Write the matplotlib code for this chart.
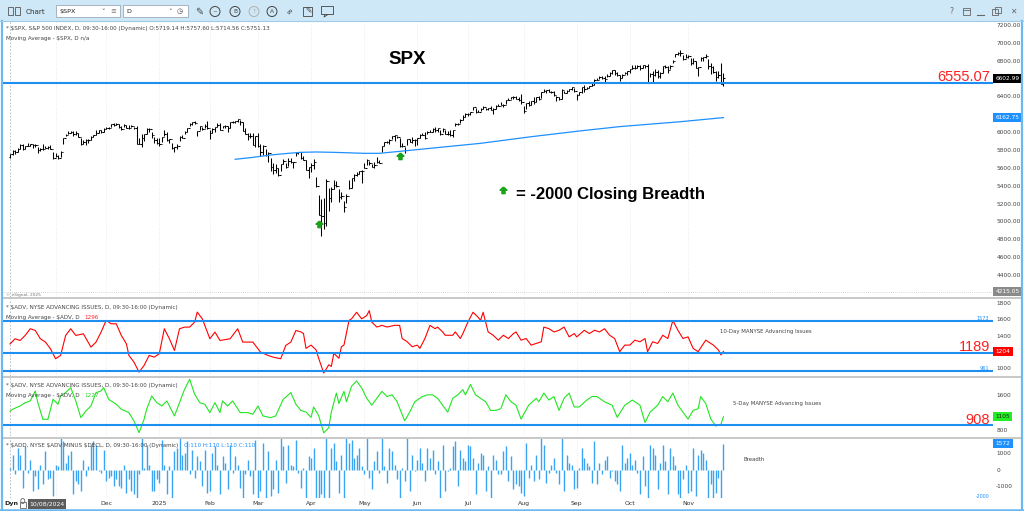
import numpy as np
import pandas as pd
import matplotlib
matplotlib.use('Agg')
import matplotlib.pyplot as plt
from matplotlib.patches import Rectangle, Ellipse
from matplotlib.lines import Line2D
from matplotlib.path import Path

# ---------------- data ----------------
start_date = '2024-10-08'
end_date = '2025-11-21'
market_holidays = ['2024-11-28', '2024-12-25', '2025-01-01', '2025-01-09', '2025-01-20',
                   '2025-02-17', '2025-04-18', '2025-05-26', '2025-06-19', '2025-07-04',
                   '2025-09-01']

spx_first_open = 5719.14
spx_close = [
    # Oct 2024
    5751.13, 5792, 5780, 5815, 5859, 5815, 5842, 5841, 5864, 5853, 5851, 5797, 5809, 5808, 5823, 5833, 5813, 5705,
    # Nov
    5728, 5712, 5783, 5929, 5973, 5996, 6001, 5984, 5985, 5949, 5871, 5893, 5917, 5917, 5949, 5969, 5987, 6021, 5999, 6032,
    # Dec
    6047, 6050, 6087, 6075, 6090, 6053, 6034, 6085, 6051, 6051, 6074, 6050, 5872, 5867, 5931, 5975, 6040, 6037, 5971, 5907, 5882,
    # Jan 2025
    5869, 5942, 5975, 5909, 5918, 5827, 5836, 5843, 5950, 5937, 5997, 6049, 6086, 6119, 6101, 6012, 6068, 6039, 6071, 6041,
    # Feb
    5994, 6038, 6061, 6084, 6026, 6066, 6068, 6052, 6115, 6115, 6129, 6144, 6118, 6013, 5983, 5955, 5956, 5861, 5955,
    # Mar
    5850, 5779, 5843, 5739, 5770, 5615, 5572, 5599, 5522, 5639, 5675, 5615, 5675, 5663, 5668, 5768, 5777, 5712, 5693, 5581, 5612,
    # Apr
    5633, 5671, 5397, 5074, 5062, 4982, 5457, 5268, 5363, 5406, 5397, 5276, 5283, 5158, 5288, 5376, 5485, 5525, 5529, 5561, 5569,
    # May
    5604, 5686, 5650, 5607, 5631, 5664, 5660, 5844, 5886, 5892, 5917, 5958, 5964, 5941, 5845, 5842, 5802, 5922, 5889, 5912, 5912,
    # Jun
    5936, 5970, 5971, 5939, 6000, 6006, 6038, 6022, 6045, 5977, 6033, 5982, 5981, 5967, 6025, 6092, 6092, 6141, 6173, 6205,
    # Jul
    6198, 6227, 6279, 6230, 6226, 6263, 6280, 6260, 6269, 6244, 6264, 6297, 6297, 6306, 6309, 6359, 6363, 6389, 6390, 6371, 6363, 6339,
    # Aug
    6238, 6330, 6299, 6345, 6340, 6389, 6374, 6446, 6466, 6469, 6450, 6449, 6411, 6396, 6370, 6467, 6439, 6466, 6481, 6502, 6460,
    # Sep
    6416, 6448, 6502, 6482, 6495, 6512, 6532, 6587, 6584, 6615, 6607, 6600, 6631, 6664, 6693, 6657, 6638, 6605, 6644, 6661, 6688,
    # Oct
    6711, 6715, 6716, 6740, 6714, 6753, 6736, 6553, 6655, 6644, 6671, 6630, 6664, 6736, 6735, 6699, 6738, 6792, 6875, 6891, 6890, 6822, 6840,
    # Nov
    6852, 6772, 6796, 6720, 6729, 6832, 6846, 6851, 6737, 6734, 6672, 6617, 6642, 6538, 6602.99,
]
spx_high = [
    5757.60, 5796, 5796, 5823, 5871, 5871, 5846, 5878, 5866, 5868, 5863, 5835, 5822, 5862, 5843, 5848, 5851, 5775,
    5772, 5741, 5784, 5937, 5983, 6012, 6018, 6008, 6009, 5993, 5929, 5909, 5923, 5921, 5962, 5973, 6021, 6025, 6021, 6045,
    6053, 6053, 6087, 6099, 6099, 6088, 6066, 6092, 6079, 6079, 6085, 6058, 6070, 5935, 5982, 5978, 6041, 6050, 6007, 5941, 5929,
    5935, 5949, 6021, 6000, 5927, 5876, 5837, 5871, 5960, 5964, 6014, 6051, 6100, 6119, 6128, 6017, 6069, 6063, 6087, 6120,
    6022, 6042, 6062, 6101, 6101, 6074, 6076, 6064, 6116, 6128, 6130, 6147, 6134, 6119, 6044, 5992, 5994, 5994, 5959,
    5987, 5866, 5860, 5812, 5783, 5705, 5656, 5642, 5597, 5645, 5703, 5654, 5716, 5712, 5670, 5775, 5777, 5777, 5733, 5685, 5615,
    5651, 5696, 5500, 5292, 5246, 5267, 5481, 5376, 5381, 5460, 5451, 5368, 5328, 5233, 5309, 5469, 5489, 5528, 5554, 5563, 5581,
    5659, 5700, 5680, 5649, 5668, 5721, 5692, 5845, 5892, 5906, 5925, 5959, 5969, 5954, 5939, 5878, 5839, 5923, 5926, 5943, 5922,
    5937, 5978, 5991, 5999, 6016, 6021, 6043, 6059, 6045, 6026, 6050, 6024, 6018, 6019, 6028, 6101, 6108, 6146, 6187, 6215,
    6211, 6228, 6285, 6273, 6243, 6266, 6290, 6270, 6272, 6292, 6266, 6302, 6316, 6336, 6310, 6360, 6381, 6395, 6401, 6409, 6390, 6428,
    6288, 6330, 6344, 6352, 6394, 6390, 6401, 6446, 6481, 6475, 6481, 6466, 6456, 6407, 6394, 6482, 6466, 6472, 6487, 6509, 6498,
    6423, 6455, 6502, 6533, 6507, 6513, 6555, 6592, 6601, 6626, 6625, 6624, 6656, 6671, 6694, 6697, 6670, 6636, 6650, 6679, 6689,
    6711, 6751, 6750, 6749, 6754, 6753, 6755, 6764, 6665, 6680, 6709, 6695, 6676, 6745, 6752, 6743, 6751, 6807, 6875, 6899, 6920, 6863, 6876,
    6864, 6825, 6828, 6796, 6729, 6842, 6847, 6870, 6824, 6776, 6737, 6683, 6683, 6771, 6664,
]
spx_low = [
    5714.56, 5745, 5760, 5775, 5816, 5804, 5808, 5840, 5847, 5824, 5830, 5762, 5785, 5800, 5818, 5812, 5813, 5703,
    5723, 5697, 5725, 5865, 5956, 5982, 5987, 5960, 5973, 5941, 5854, 5865, 5853, 5880, 5914, 5946, 5963, 5992, 5994, 6004,
    6035, 6036, 6060, 6070, 6076, 6048, 6025, 6062, 6046, 6033, 6059, 6037, 5867, 5866, 5832, 5903, 5982, 6006, 5932, 5880, 5868,
    5846, 5888, 5961, 5897, 5874, 5809, 5773, 5807, 5906, 5937, 5975, 6006, 6071, 6075, 6088, 5962, 6020, 6023, 6042, 6031,
    5923, 5991, 6007, 6062, 6020, 6048, 6043, 6003, 6051, 6106, 6100, 6111, 6084, 6009, 5977, 5908, 5932, 5858, 5837,
    5837, 5733, 5745, 5733, 5667, 5565, 5529, 5547, 5505, 5560, 5640, 5597, 5622, 5652, 5602, 5731, 5759, 5703, 5685, 5573, 5489,
    5558, 5593, 5391, 5069, 4835, 4910, 4950, 5115, 5221, 5360, 5382, 5220, 5256, 5101, 5207, 5359, 5371, 5456, 5505, 5527, 5434,
    5597, 5633, 5628, 5606, 5602, 5650, 5650, 5781, 5844, 5876, 5865, 5928, 5901, 5931, 5830, 5830, 5767, 5857, 5886, 5875, 5843,
    5861, 5929, 5967, 5921, 5978, 6000, 6005, 6003, 6003, 5963, 6007, 5978, 5971, 5953, 5943, 6069, 6080, 6108, 6132, 6175,
    6177, 6189, 6243, 6220, 6224, 6236, 6261, 6243, 6253, 6243, 6201, 6264, 6289, 6303, 6282, 6318, 6360, 6368, 6376, 6367, 6345, 6315,
    6213, 6260, 6288, 6302, 6317, 6340, 6365, 6379, 6445, 6441, 6447, 6437, 6401, 6344, 6357, 6374, 6437, 6438, 6460, 6474, 6447,
    6360, 6416, 6444, 6455, 6478, 6493, 6522, 6532, 6579, 6596, 6600, 6552, 6614, 6634, 6656, 6642, 6625, 6570, 6610, 6648, 6643,
    6657, 6705, 6708, 6717, 6700, 6719, 6714, 6550, 6617, 6552, 6633, 6612, 6603, 6668, 6724, 6658, 6706, 6771, 6839, 6862, 6857, 6812, 6831,
    6826, 6751, 6766, 6717, 6631, 6801, 6801, 6834, 6710, 6646, 6661, 6577, 6605, 6535, 6521,
]

# moving average of $SPX (read at a few bars)
spx_ma_bar = [89, 96, 103, 110, 115, 121, 128, 140, 146, 154, 186, 206, 225, 241, 265, 282]
spx_ma_val = [5696, 5718, 5744, 5763, 5774, 5778, 5774, 5763, 5763, 5785, 5875, 5949, 6013, 6062, 6117, 6163]

# 10-day MA of NYSE advancing issues
adv10_bar = [0, 2, 4, 6, 8, 10, 12, 14, 16, 18, 20, 22, 24, 26, 29, 32, 34, 36, 38, 40,
             42, 44, 46, 47, 49, 51, 53, 55, 57, 59, 61, 63, 65, 67, 69, 71, 73, 74, 76, 79,
             81, 83, 87, 90, 92, 96, 99, 102, 104, 107, 109, 111, 113, 115, 116, 117, 119, 121, 122, 124,
             126, 127, 128, 130, 131, 132, 134, 135, 137, 138, 139, 141, 142, 143, 145, 147, 149, 152, 154, 155,
             157, 159, 161, 162, 164, 166, 168, 169, 171, 172, 175, 176, 178, 179, 181, 183, 185, 186, 187, 189,
             191, 193, 195, 197, 199, 200, 202, 204, 206, 208, 210, 211, 213, 215, 217, 219, 221, 223, 224, 227,
             229, 231, 233, 235, 237, 239, 241, 243, 245, 247, 249, 251, 252, 254, 256, 258, 260, 262, 264, 266,
             268, 270, 272, 275, 278, 280, 281, 282]
adv10_val = [1296, 1360, 1339, 1401, 1483, 1462, 1360, 1319, 1237, 1114, 1155, 1401, 1483, 1401, 1421, 1257, 1319, 1442, 1585, 1544,
             1544, 1401, 1298, 1155, 1073, 950, 1032, 1155, 1134, 1175, 1483, 1360, 1216, 1483, 1503, 1503, 1565, 1688, 1606, 1360,
             1442, 1339, 1360, 1483, 1319, 1319, 1196, 1155, 1134, 1114, 1278, 1319, 1462, 1444, 1424, 1242, 1282, 1222, 1120, 939,
             1040, 1020, 1181, 1120, 1262, 1282, 1585, 1605, 1686, 1646, 1605, 1646, 1706, 1565, 1504, 1525, 1504, 1525, 1525, 1363,
             1323, 1262, 1282, 1242, 1363, 1525, 1484, 1504, 1444, 1403, 1403, 1444, 1363, 1424, 1565, 1686, 1626, 1585, 1686, 1444,
             1403, 1343, 1403, 1363, 1424, 1444, 1343, 1363, 1282, 1302, 1323, 1504, 1484, 1444, 1464, 1504, 1383, 1424, 1383, 1464,
             1424, 1464, 1444, 1484, 1403, 1363, 1201, 1282, 1282, 1343, 1323, 1363, 1201, 1323, 1302, 1403, 1363, 1585, 1464, 1363,
             1383, 1242, 1201, 1343, 1282, 1222, 1161, 1204]

# 5-day MA of NYSE advancing issues
adv5_bar = [0, 1, 4, 6, 8, 10, 11, 13, 15, 16, 17, 19, 20, 22, 24, 26, 28, 30, 32, 34,
            36, 37, 39, 42, 44, 47, 49, 51, 53, 54, 56, 58, 60, 62, 65, 67, 69, 71, 73, 75,
            77, 79, 81, 83, 84, 86, 88, 91, 94, 96, 98, 100, 103, 105, 108, 111, 113, 115, 117, 119,
            120, 122, 124, 126, 127, 129, 130, 132, 133, 135, 137, 139, 141, 143, 145, 147, 149, 151, 153, 156,
            158, 160, 163, 165, 167, 169, 171, 173, 175, 177, 179, 180, 182, 184, 186, 188, 190, 192, 194, 196,
            198, 200, 202, 205, 208, 209, 211, 213, 215, 217, 219, 221, 223, 225, 228, 230, 232, 235, 238, 240,
            243, 246, 249, 251, 253, 256, 258, 260, 262, 264, 266, 268, 270, 272, 273, 275, 277, 279, 281, 282]
adv5_val = [1227, 1274, 1350, 1426, 1464, 1693, 1426, 1045, 1045, 1274, 1502, 1388, 1579, 1655, 1769, 1464, 1083, 1236, 1350, 1655,
            1693, 1769, 1502, 1388, 1274, 1198, 1007, 740, 1045, 1274, 1579, 1426, 1350, 1464, 1121, 1426, 1731, 1960, 1617, 1426,
            1388, 1198, 1426, 1198, 1464, 1350, 1464, 1198, 1198, 1160, 1350, 1121, 1083, 1121, 1502, 1655, 1388, 1248, 1209, 1090,
            1327, 1129, 734, 853, 1209, 1644, 1406, 1683, 1446, 1802, 1921, 1762, 1525, 1367, 1525, 1683, 1565, 1604, 1446, 1011,
            1209, 1446, 1565, 1604, 1604, 1525, 1367, 1209, 1525, 1604, 1723, 1604, 1842, 1604, 1525, 1446, 1248, 1248, 1288, 1604,
            1446, 1367, 1050, 1367, 1525, 1446, 1644, 1485, 1565, 1248, 1525, 1644, 1327, 1327, 1485, 1565, 1565, 1446, 1367, 1090,
            1367, 1485, 1367, 971, 1209, 1367, 1565, 1446, 1644, 1367, 1209, 1050, 1248, 1288, 1565, 1406, 1050, 892, 932, 1105]

# $ADD, NYSE advancers minus decliners (daily close)
add_breadth = [
    110, 850, -300, 1300, 900, -1100, 1400, -200, 600, -1300, -400, -1200, 300, -900, 1100, -600, -500, -1600,
    300, 200, 1900, 1700, 400, 900, 1100, -1500, -700, -900, -1300, 600, -400, 200, 1500, 1700, 1500, -100, -200, 1200,
    -700, -500, -400, -1000, -600, -1000, -1100, 300, -1400, -600, -1300, -1500, -1990, -300, 1900, 100, 1500, 300, -1300, -1300, -600,
    -800, 1800, 300, -1500, 200, -1900, 1100, 1300, 2100, 900, 1000, 1700, -300, 1200, -500, 800, 500, -1000, 1200, -1400,
    -1300, 1000, 1400, 300, -1500, 800, 400, -1200, 1500, -200, 800, 300, -1100, -1950, -300, 600, -400, -1500, 1800,
    -1800, -1300, 1600, -1700, 1100, -1600, -1200, 600, -1400, 2000, 1400, -800, 1500, 300, 200, 1800, -200, -1100, 100, -1700, 800,
    700, 1300, -1850, -2400, -1500, -1800, 2500, -1700, 1300, 1600, 500, -1400, 900, -1800, 2100, 1600, 1800, 700, 900, 1300, 200,
    -300, 1900, -500, -1200, 500, 1100, -200, 2100, 200, -800, 1300, 1100, 300, -600, -2050, 100, -700, 2000, -1300, 900, -100,
    600, 1300, 400, -700, 1300, 700, 1200, -300, 500, -1700, 1500, -1300, -100, 100, 1400, 1700, -1000, 1200, 700, 500,
    1500, 1400, 700, -1500, 400, 1000, 900, -1300, 200, -1900, 900, 600, -300, -300, 1100, 1400, -700, 800, -1200, -900, -1000, -1400,
    -1600, 1600, -500, 300, -700, 900, -600, 1900, 1500, -800, -200, 300, 700, -200, -900, 2100, -1300, 900, 400, 300, -1200,
    -1100, 100, 1300, 700, 400, 200, -800, 1700, -900, 400, -300, 600, 800, -500, -100, -700, -900, -1300, 1500, 400, 700,
    1000, 300, 600, -200, -1500, 800, -1000, -1980, 1500, 1300, 900, -1200, 400, 1500, 500, -1500, 1300, 800, 300, -1500, -1800, -600, 300,
    -1400, -1300, 1300, -1600, 900, 1200, 1000, 600, -1700, -900, -1700, -1400, -500, -1800, 1572,
]

spx_level = 6555.07
adv10_levels = [1573, 1189, 961]
adv5_level = 908
breadth_trigger = -2000

# ---------------- layout helpers ----------------
W, H = 1024, 511
fig = plt.figure(figsize=(W / 100, H / 100), dpi=100)
fig.patch.set_facecolor('white')
plt.rcParams['font.family'] = 'DejaVu Sans'

def fx(px):
    return px / W

def fy(py):
    return 1 - py / H

def ftxt(px, py, s, **kw):
    kw.setdefault('fontsize', 4.2)
    kw.setdefault('color', '#444444')
    kw.setdefault('va', 'center')
    kw.setdefault('ha', 'left')
    return fig.text(fx(px), fy(py), s, **kw)

def frect(x0, y0, x1, y1, **kw):
    r = Rectangle((fx(x0), fy(y1)), (x1 - x0) / W, (y1 - y0) / H, transform=fig.transFigure, **kw)
    fig.add_artist(r)
    return r

def fline(xs, ys, **kw):
    fig.add_artist(Line2D([fx(x) for x in xs], [fy(y) for y in ys], transform=fig.transFigure, **kw))

dates = pd.bdate_range(start_date, end_date)
dates = dates[~dates.isin(pd.to_datetime(market_holidays))]
n = len(dates)
idx = np.arange(n)
month_first = [i for i in range(1, n) if dates[i].month != dates[i - 1].month]

X0, X1 = 3, 993
bar0_px, bar_px = 10, 2.53
xlim = ((X0 - bar0_px) / bar_px, (X1 - bar0_px) / bar_px)
LINE_BLUE = '#1f8ef1'

def panel(y0, y1, ylim, ticks, fmt):
    ax = fig.add_axes([fx(X0), fy(y1), (X1 - X0) / W, (y1 - y0) / H])
    ax.set_xlim(*xlim)
    ax.set_ylim(*ylim)
    ax.set_facecolor('none')
    for s in ax.spines.values():
        s.set_visible(False)
    ax.set_xticks([])
    ax.yaxis.tick_right()
    ax.set_yticks(ticks)
    ax.set_yticklabels([fmt % t for t in ticks])
    ax.tick_params(axis='y', length=0, pad=2.3, labelsize=4.2, labelcolor='#444444')
    for b in month_first:
        ax.axvline(b, color='#e3e3e3', lw=0.6, ls=(0, (1, 2)), zorder=0)
    ax.axvline(0, color='#b5b5b5', lw=0.6, ls=(0, (2, 2)), zorder=0)
    return ax

def tag(ax, v, s, fc, tc='white'):
    ax.text(1.0 + 2.5 / (X1 - X0), v, s, transform=ax.get_yaxis_transform(), ha='left', va='center',
            fontsize=4.2, color=tc, clip_on=False, zorder=6,
            bbox=dict(boxstyle='square,pad=0.38', fc=fc, ec='none'))

def big_label(ax, v, s):
    ax.annotate(s, xy=((990 - X0) / (X1 - X0), v), xycoords=ax.get_yaxis_transform(),
                xytext=(0, 1.2), textcoords='offset points', ha='right', va='baseline',
                fontsize=10.5, color='#ff2020', family=['Liberation Sans Narrow', 'Liberation Sans'],
                annotation_clip=False, zorder=5)

# ---------------- SPX panel ----------------
# 6200 and 6600 sit under the price tags, so they are left out as in the original
spx_ticks = [t for t in range(4400, 7201, 200) if t not in (6200, 6600)]
ax1 = panel(20, 297, (4154, 7256), spx_ticks, '%.2f')
spx_open = [spx_first_open] + spx_close[:-1]
ax1.vlines(idx, spx_low, spx_high, color='black', lw=0.75)
ax1.hlines(spx_close, idx, idx + 0.5, color='black', lw=0.75)
ax1.hlines(spx_open, idx - 0.5, idx, color='black', lw=0.75)
ax1.plot(spx_ma_bar, spx_ma_val, color='#1e90ff', lw=0.9)
ax1.axhline(spx_level, color=LINE_BLUE, lw=1.5)
ax1.axhline(4215.05, color='#c8c8c8', lw=0.6, ls=(0, (1, 1.5)))

arrow = Path([(0, 1), (1, 0.1), (0.45, 0.1), (0.45, -0.9), (-0.45, -0.9), (-0.45, 0.1), (-1, 0.1), (0, 1)])
hits = [i for i in idx if add_breadth[i] <= breadth_trigger]
ax1.plot(hits, [spx_low[i] - 100 for i in hits], ls='none', marker=arrow, ms=5, color='#1aa31a')

big_label(ax1, spx_level, '6555.07')
tag(ax1, spx_close[-1], '%.2f' % spx_close[-1], 'black')
tag(ax1, 6162.75, '6162.75', '#1e90ff')
tag(ax1, 4215.05, '4215.05', '#8a8a8a')

ftxt(407, 59, 'SPX', fontsize=13.5, weight='bold', color='black', ha='center',
     family=['Liberation Sans', 'DejaVu Sans'])
ax1.plot([503 / W], [fy(190)], transform=fig.transFigure, marker=arrow, ms=5, color='#1aa31a', clip_on=False)
ftxt(516, 194, '= -2000 Closing Breadth', fontsize=12, weight='bold', color='black',
     family=['Liberation Sans', 'DejaVu Sans'])
ftxt(6, 28.5, '* $SPX, S&P 500 INDEX, D, 09:30-16:00 (Dynamic) O:5719.14 H:5757.60 L:5714.56 C:5751.13', fontsize=4.1)
ftxt(6, 38.5, 'Moving Average - $SPX, D n/a', fontsize=4.1)
ftxt(6, 294.5, '\u00a9 eSignal, 2025', fontsize=3.1, color='#777777')

# ---------------- 10-day advancing issues ----------------
ax2 = panel(299, 376, (902, 1849), [1000, 1400, 1600, 1800], '%d')
ax2.plot(adv10_bar, adv10_val, color='#ff0000', lw=0.8)
for lv in adv10_levels:
    ax2.axhline(lv, color=LINE_BLUE, lw=1.5)
ax2.text((989 - X0) / (X1 - X0), 1573, '1573', transform=ax2.get_yaxis_transform(), ha='right', va='bottom',
         fontsize=3.6, color='#1e90ff')
ax2.text((989 - X0) / (X1 - X0), 961, '961', transform=ax2.get_yaxis_transform(), ha='right', va='bottom',
         fontsize=3.6, color='#1e90ff')
big_label(ax2, 1189, '1189')
tag(ax2, adv10_val[-1], str(adv10_val[-1]), '#ff0000')
ftxt(720, 332, '10-Day MANYSE Advancing Issues', fontsize=3.9)
ftxt(6, 308, '* $ADV, NYSE ADVANCING ISSUES, D, 09:30-16:00 (Dynamic)', fontsize=4.1)
ftxt(6, 317.5, 'Moving Average - $ADV, D ', fontsize=4.1)
ftxt(84, 317.5, '1296', fontsize=4.1, color='#ff2020')

# ---------------- 5-day advancing issues ----------------
ax3 = panel(378, 436, (663, 1989), [800, 1600], '%d')
ax3.plot(adv5_bar, adv5_val, color='#22e622', lw=0.8)
ax3.axhline(adv5_level, color=LINE_BLUE, lw=1.5)
big_label(ax3, adv5_level, '908')
tag(ax3, adv5_val[-1], str(adv5_val[-1]), '#22ee22', tc='#222222')
ftxt(733, 403, '5-Day MANYSE Advancing Issues', fontsize=3.9)
ftxt(6, 385, '* $ADV, NYSE ADVANCING ISSUES, D, 09:30-16:00 (Dynamic)', fontsize=4.1)
ftxt(6, 395, 'Moving Average - $ADV, D ', fontsize=4.1)
ftxt(84, 395, '1227', fontsize=4.1, color='#22cc22')

# ---------------- breadth ----------------
ax4 = panel(438, 498, (-1727, 1909), [-1000, 0, 1000], '%d')
ax4.vlines(idx, 0, add_breadth, color='#3aa4f2', lw=1.0, zorder=3)
tag(ax4, add_breadth[-1], str(add_breadth[-1]), '#1e90ff')
ax4.text((990 - X0) / (X1 - X0), -1660, '-2000', transform=ax4.get_yaxis_transform(), ha='right', va='center',
         fontsize=3.4, color='#1e90ff')
ftxt(743, 459, 'Breadth', fontsize=3.9)
ftxt(6, 445, '* $ADD, NYSE $ADV MINUS $DECL, D, 09:30-16:00 (Dynamic)', fontsize=4.1, zorder=0.5)
ftxt(184, 445, 'O:110 H:110 L:110 C:110', fontsize=4.1, color='#1e90ff', zorder=0.5)

# ---------------- time axis ----------------
ax5 = fig.add_axes([fx(X0), fy(509), (X1 - X0) / W, 11 / H])
ax5.set_xlim(*xlim)
ax5.set_ylim(0, 1)
ax5.axis('off')
for b in month_first:
    if bar0_px + b * bar_px < 80:   # hidden under the cursor date box
        continue
    lab = dates[b].strftime('%b') if dates[b].month != 1 else str(dates[b].year)
    ax5.text(b, 0.5, lab, ha='center', va='center', fontsize=4.4, color='#333333')
ftxt(4, 504, 'Dyn', fontsize=4.6, weight='bold', color='#222222')
frect(20, 501.5, 25.5, 507.5, fc='none', ec='#666666', lw=0.6)
fig.add_artist(Ellipse((fx(22.75), fy(501)), 4 / W, 5 / H, transform=fig.transFigure, fc='none', ec='#666666', lw=0.6))
frect(28, 499, 66, 509, fc='#5b5b5b', ec='none')
ftxt(47, 504, '10/08/2024', fontsize=4.4, color='white', ha='center')

# ---------------- panel separators and frame ----------------
for yy in (298, 377, 437.5):
    fline([3, 1021], [yy, yy], color='#c8c8c8', lw=1.4)
fline([1.5, 1.5], [21, 511], color='#6db8ef', lw=1.6)
fline([1021.5, 1021.5], [21, 511], color='#6db8ef', lw=1.6)
fline([0, 1024], [510, 510], color='#6db8ef', lw=1.8)

# ---------------- toolbar ----------------
frect(0, 0, W, 21, fc='#cfe8f7', ec='none')
fline([0, W], [21, 21], color='#9fcbea', lw=0.8)
frect(8, 7, 13, 15.5, fc='none', ec='#555555', lw=0.6)
frect(15, 7, 20, 15.5, fc='none', ec='#555555', lw=0.6)
ftxt(26, 11.5, 'Chart', fontsize=5.2, color='#333333')
frect(56, 5, 120, 17, fc='white', ec='#8a9aaa', lw=0.5)
ftxt(59, 11.2, '$SPX', fontsize=4.6, color='#222222')
ftxt(101, 11.5, '\u02c5', fontsize=5, color='#444444')
ftxt(110, 11.2, '\u2261', fontsize=5, color='#777777')
frect(123, 5, 188, 17, fc='white', ec='#8a9aaa', lw=0.5)
ftxt(126, 11.2, 'D', fontsize=4.6, color='#222222')
ftxt(168, 11.5, '\u02c5', fontsize=5, color='#444444')
ftxt(177, 11.2, '\u25f7', fontsize=5, color='#444444')
ftxt(199, 11.5, '\u270e', fontsize=7, color='#444444', ha='center')
for cx, letter, col in [(215, '~', '#444444'), (235, 'B', '#444444'), (254, 'T', '#b0b0b0'), (272, 'A', '#444444')]:
    fig.add_artist(Ellipse((fx(cx), fy(11.5)), 10 / W, 10 / H, transform=fig.transFigure,
                           fc='none', ec=col, lw=0.7))
    ftxt(cx, 11.5, letter, fontsize=4.2, color=col, ha='center')
ftxt(290, 11.5, '\u221e', fontsize=6, color='#444444', ha='center', rotation=45)
frect(303, 7, 312, 16, fc='none', ec='#444444', lw=0.6)
ftxt(309, 10.5, '\u270e', fontsize=5.5, color='#444444', ha='center')
frect(321, 6.5, 333, 14.5, fc='none', ec='#444444', lw=0.6)
fline([325, 324, 328], [14.5, 17, 14.5], color='#444444', lw=0.6)
ftxt(951, 12, '?', fontsize=5.5, color='#666666', ha='center')
frect(963, 8, 970, 15, fc='none', ec='#666666', lw=0.6)
fline([963, 970], [10, 10], color='#666666', lw=0.6)
fline([977, 984], [15, 15], color='#666666', lw=0.8)
frect(992, 9, 998, 15, fc='none', ec='#666666', lw=0.6)
frect(994.5, 7, 1000.5, 13, fc='none', ec='#666666', lw=0.6)
ftxt(1013, 11.5, '\u2715', fontsize=5.5, color='#666666', ha='center')

fig.savefig('out.png', dpi=100, facecolor='white')
